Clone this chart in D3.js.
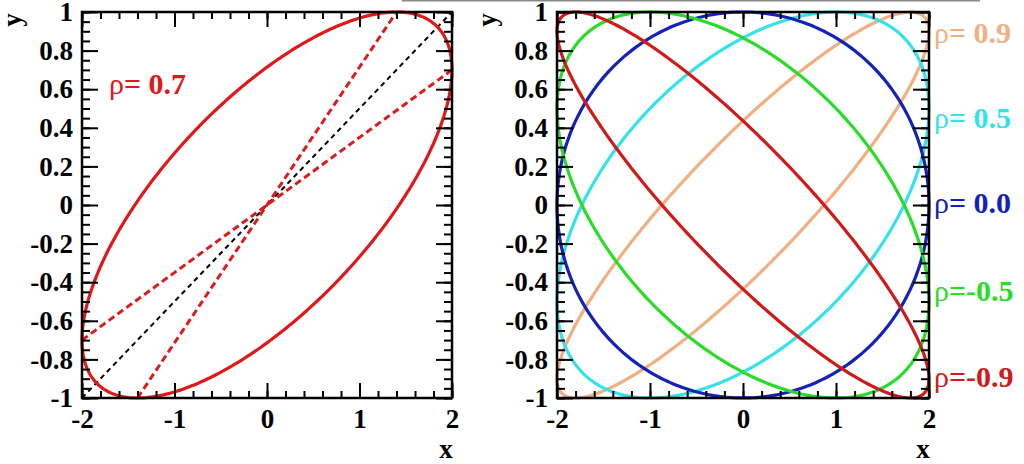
<!DOCTYPE html>
<html><head><meta charset="utf-8">
<script src="https://cdn.jsdelivr.net/npm/d3@7"></script>
<style>
body{margin:0;background:#fff;}
svg{display:block;}
text{font-family:"Liberation Serif","Times New Roman",serif;font-weight:bold;}
</style></head>
<body><svg id="c" width="1024" height="464"></svg>
<script>
// ---- data ----
const xDomain = [-2, 2];
const yDomain = [-1, 1];
const sigmaX = 2, sigmaY = 1;
const rhoLeft = 0.7;
const rhoRight = [0.9, 0.5, 0.0, -0.5, -0.9];
const rightLabels = ["\u03c1= 0.9", "\u03c1= 0.5", "\u03c1= 0.0", "\u03c1=-0.5", "\u03c1=-0.9"];
const rightColors = ["#f0b082", "#36e2ea", "#1422b8", "#2adc2a", "#d01a1a"];
const labelYValues = [0.84, 0.4, -0.04, -0.495, -0.945];
const xMajor = [-2, -1, 0, 1, 2];
const xMajorLabels = ["-2", "-1", "0", "1", "2"];
const yMajor = [1, 0.8, 0.6, 0.4, 0.2, 0, -0.2, -0.4, -0.6, -0.8, -1];
const yMajorLabels = ["1", "0.8", "0.6", "0.4", "0.2", "0", "-0.2", "-0.4", "-0.6", "-0.8", "-1"];
const xMinorStep = 0.2, yMinorStep = 0.05;

const svg = d3.select("#c");
const y = d3.scaleLinear().domain(yDomain).range([398, 12]);
const xL = d3.scaleLinear().domain(xDomain).range([82, 452]);
const xR = d3.scaleLinear().domain(xDomain).range([557, 929]);

const xMinor = d3.range(xDomain[0], xDomain[1] + 1e-9, xMinorStep).map(v => +v.toFixed(3));
const yMinor = d3.range(yDomain[0], yDomain[1] + 1e-9, yMinorStep).map(v => +v.toFixed(3));

// gray line artifact at top
svg.append("line").attr("x1", 402).attr("x2", 980).attr("y1", 0.5).attr("y2", 0.5)
  .attr("stroke", "#8a8a8a").attr("stroke-width", 2);

function ellipsePts(rho) {
  const n = 360, pts = [];
  for (let i = 0; i <= n; i++) {
    const t = 2 * Math.PI * i / n;
    pts.push([sigmaX * Math.cos(t), sigmaY * (rho * Math.cos(t) + Math.sqrt(1 - rho * rho) * Math.sin(t))]);
  }
  return pts;
}

function frame(x, g) {
  const fs = 27;
  const style = sel => { sel.select(".domain").remove(); sel.selectAll("line").attr("stroke", "#000").attr("stroke-width", 2); };
  // bottom
  g.append("g").attr("transform", `translate(0,${y(-1)})`)
    .call(d3.axisBottom(x).tickValues(xMinor).tickSize(-7).tickFormat("")).call(style);
  g.append("g").attr("transform", `translate(0,${y(-1)})`)
    .call(d3.axisBottom(x).tickValues(xMajor).tickSize(-15).tickPadding(11)
      .tickFormat((d, i) => xMajorLabels[i])).call(style)
    .selectAll("text").attr("font-size", fs).attr("fill", "#000");
  // top
  g.append("g").attr("transform", `translate(0,${y(1)})`)
    .call(d3.axisTop(x).tickValues(xMinor).tickSize(-7).tickFormat("")).call(style);
  g.append("g").attr("transform", `translate(0,${y(1)})`)
    .call(d3.axisTop(x).tickValues(xMajor).tickSize(-15).tickFormat("")).call(style);
  // left
  g.append("g").attr("transform", `translate(${x(-2)},0)`)
    .call(d3.axisLeft(y).tickValues(yMinor).tickSize(-8).tickFormat("")).call(style);
  g.append("g").attr("transform", `translate(${x(-2)},0)`)
    .call(d3.axisLeft(y).tickValues(yMajor).tickSize(-16).tickPadding(9)
      .tickFormat((d, i) => yMajorLabels[i])).call(style)
    .selectAll("text").attr("font-size", fs).attr("fill", "#000");
  // right
  g.append("g").attr("transform", `translate(${x(2)},0)`)
    .call(d3.axisRight(y).tickValues(yMinor).tickSize(-8).tickFormat("")).call(style);
  g.append("g").attr("transform", `translate(${x(2)},0)`)
    .call(d3.axisRight(y).tickValues(yMajor).tickSize(-16).tickFormat("")).call(style);
  // frame
  g.append("rect").attr("x", x(-2)).attr("y", y(1)).attr("width", x(2) - x(-2)).attr("height", y(-1) - y(1))
    .attr("fill", "none").attr("stroke", "#000").attr("stroke-width", 2.5);
  // titles
  g.append("text").attr("x", x(2) - 6).attr("y", 458).attr("text-anchor", "middle")
    .attr("font-size", fs).text("x");
  g.append("text").attr("transform", `translate(${x(-2) - 61},${y(1) + 8}) rotate(-90)`)
    .attr("text-anchor", "middle").attr("font-size", fs).text("y");
}

const line = x => d3.line().x(d => x(d[0])).y(d => y(d[1]));

// ---- left panel ----
const gL = svg.append("g");
// black diagonal
gL.append("path").datum([[-2, -1], [2, 1]]).attr("d", line(xL))
  .attr("fill", "none").attr("stroke", "#000").attr("stroke-width", 2).attr("stroke-dasharray", "5,4");
// regression lines
const regYX = [[-2, -2 * rhoLeft * sigmaY / sigmaX], [2, 2 * rhoLeft * sigmaY / sigmaX]];
const regXY = [[-rhoLeft * sigmaX / sigmaY, -1], [rhoLeft * sigmaX / sigmaY, 1]];
[regYX, regXY].forEach(seg => {
  gL.append("path").datum(seg).attr("d", line(xL))
    .attr("fill", "none").attr("stroke", "#dc1c1c").attr("stroke-width", 3).attr("stroke-dasharray", "7,4");
});
gL.append("path").datum(ellipsePts(rhoLeft)).attr("d", line(xL))
  .attr("fill", "none").attr("stroke", "#e01818").attr("stroke-width", 3.2);
frame(xL, gL);
const tL = gL.append("text").attr("x", 109).attr("y", 94).attr("font-size", 30).attr("fill", "#e01818");
tL.append("tspan").attr("font-weight", "normal").text("\u03c1");
tL.append("tspan").text("= " + rhoLeft.toFixed(1));

// ---- right panel ----
const gR = svg.append("g");
rhoRight.forEach((r, i) => {
  gR.append("path").datum(ellipsePts(r)).attr("d", line(xR))
    .attr("fill", "none").attr("stroke", rightColors[i]).attr("stroke-width", 3.2);
});
frame(xR, gR);
rhoRight.forEach((r, i) => {
  const t = gR.append("text").attr("x", 934).attr("y", y(labelYValues[i])).attr("font-size", 30).attr("fill", rightColors[i]);
  t.append("tspan").attr("font-weight", "normal").text(rightLabels[i].slice(0, 1));
  t.append("tspan").text(rightLabels[i].slice(1));
});
</script></body></html>
